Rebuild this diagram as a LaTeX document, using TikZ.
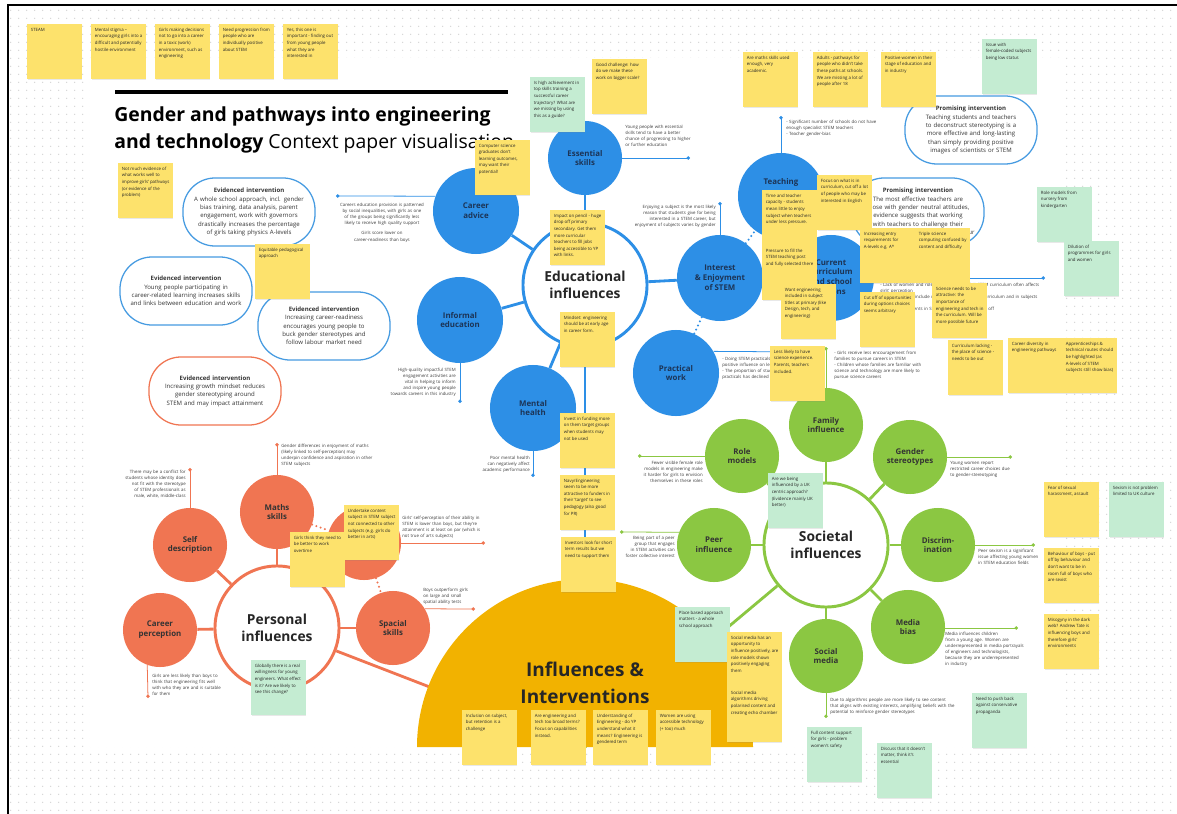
\documentclass[tikz,border=0pt]{standalone}
\usepackage{fontspec}
\setmainfont{Open Sans}
\usetikzlibrary{arrows.meta, positioning, shadows, patterns.meta}

\definecolor{edublue}{RGB}{45, 143, 230}
\definecolor{socgreen}{RGB}{139, 199, 66}
\definecolor{perorange}{RGB}{240, 117, 82}
\definecolor{infyellow}{RGB}{242, 178, 0}
\definecolor{noteyellow}{RGB}{253, 226, 108}
\definecolor{notegreen}{RGB}{196, 236, 210}
\definecolor{ivblue}{RGB}{70, 155, 225}
\definecolor{inkgray}{RGB}{60, 60, 60}
\definecolor{navy}{RGB}{28, 52, 86}

\hyphenpenalty=10000
\exhyphenpenalty=10000

\newcommand{\titlefont}{\fontsize{13.8}{16}\selectfont}
\newcommand{\hubfont}{\fontsize{9.8}{12.5}\selectfont\bfseries}
\newcommand{\satfont}{\fontsize{5.6}{7}\selectfont\bfseries}
\newcommand{\ivfont}{\fontsize{4.3}{5.9}\selectfont}
\newcommand{\annfont}{\fontsize{3.1}{4.3}\selectfont}
\newcommand{\notefont}{\fontsize{3.1}{4.7}\selectfont}
\newcommand{\bigfont}{\fontsize{13.5}{19}\selectfont\bfseries}

\tikzdeclarepattern{
  name=boarddots, type=uncolored,
  bounding box={(0pt,0pt) and (5.5pt,5.5pt)},
  tile size={(5.5pt,5.5pt)},
  code={\fill (2.75pt,2.75pt) circle (0.55pt);}
}

\tikzset{
  hub/.style={circle, draw=#1, line width=2.1pt, fill=white, minimum size=3.1cm, inner sep=0pt, align=center, font=\hubfont, text=black!85},
  sat/.style={circle, fill=#1, minimum size=2.15cm, inner sep=0pt, align=center, font=\satfont, text=black!80},
  satsmall/.style={sat=#1, minimum size=1.85cm},
  link/.style={draw=#1, line width=2pt},
  dotlink/.style={draw=#1, line width=1.6pt, line cap=round, dash pattern=on 0pt off 3.2pt},
  tick/.style={draw=#1, line width=0.55pt, -{Circle[length=2.4pt]}},
  ann/.style={font=\annfont, text=inkgray, inner sep=0pt, align=left},
  intv/.style={draw=#1, line width=0.9pt, fill=white, rounded corners=0.8cm, minimum width=3.3cm, minimum height=1.7cm, text width=2.9cm, align=center, font=\ivfont, text=black!80},
  note/.style={fill=#1, anchor=north west, inner sep=0.09cm, font=\notefont, text=black!85,
    drop shadow={opacity=0.18, shadow xshift=0.25pt, shadow yshift=-0.8pt},
    execute at begin node={\begin{minipage}[c][1.19cm][t]{1.19cm}\raggedright},
    execute at end node={\end{minipage}}},
  ynote/.style={note=noteyellow},
  gnote/.style={note=notegreen},
}

\begin{document}
\begin{tikzpicture}[x=0.025cm, y=-0.025cm]
  \useasboundingbox (0,0) rectangle (1177,814);

  % board and frame
  \fill[pattern={boarddots}, pattern color=black!17] (8,5) rectangle (1177,814);
  \fill[white] (90,58) rectangle (1065,747);
  \draw[line width=1.7pt] (8,814) -- (8,5) -- (1177,5);

  % title
  \draw[line width=2.2pt] (115,92) -- (508,92);
  \node[anchor=base west, inner sep=0pt, font=\titlefont\bfseries] (title1) at (114,122) {Gender and pathways into engineering};
  \node[anchor=base west, inner sep=0pt, font=\titlefont] (title2) at (114,149) {\textbf{and technology} Context paper visualisation};

  % hubs
  \node[hub=edublue] (edu) at (585,285) {Educational\\influences};
  \node[hub=socgreen] (soc) at (826,545) {Societal\\influences};
  \node[hub=perorange] (pers) at (277,628) {Personal\\influences};

  % educational satellites
  \node[satsmall=edublue, text=navy] (ess) at (585,158) {Essential\\skills};
  \node[sat=edublue, text=navy] (car) at (476,211) {Career\\advice};
  \node[sat=edublue, text=navy] (inf) at (460,320) {Informal\\education};
  \node[sat=edublue, text=navy] (men) at (533,408) {Mental\\health};
  \node[sat=edublue, text=navy] (int) at (720,278) {Interest\\\& Enjoyment\\of STEM};
  \node[sat=edublue, text=navy] (pra) at (676,373) {Practical\\work};
  \node[sat=edublue] (tea) at (781,196) {};
  \node[font=\satfont, text=navy] (teaL) at (781,182) {Teaching};
  \node[sat=edublue, text=navy] (cur) at (831,278) {Current\\curriculum\\and school\\options};

  % societal satellites
  \node[satsmall=socgreen] (fam) at (826,425) {Family\\influence};
  \node[satsmall=socgreen] (gen) at (910,457) {Gender\\stereotypes};
  \node[satsmall=socgreen] (dis) at (938,545) {Discrim-\\ination};
  \node[satsmall=socgreen] (med) at (908,627) {Media\\bias};
  \node[satsmall=socgreen] (socm) at (826,656) {Social\\media};
  \node[satsmall=socgreen] (peer) at (714,545) {Peer\\influence};
  \node[satsmall=socgreen] (role) at (742,456) {Role\\models};

  % personal satellites
  \node[satsmall=perorange] (self) at (190,545) {Self\\description};
  \node[satsmall=perorange] (carp) at (160,630) {Career\\perception};
  \node[satsmall=perorange] (math) at (277,512) {Maths\\skills};
  \node[satsmall=perorange] (att) at (364,543) {Attainment};
  \node[satsmall=perorange] (spa) at (393,628) {Spacial\\skills};

  % links
  \coordinate (inflc) at (585,747);
  \foreach \s in {ess, car, inf, men, int}
    \draw[link=edublue] (edu) -- (\s);
  \draw[dotlink=edublue] (int) -- (tea);
  \draw[dotlink=edublue] (int) -- (pra);
  \foreach \s in {fam, gen, dis, med, socm, peer, role}
    \draw[link=socgreen] (soc) -- (\s);
  \foreach \s in {self, carp, math, spa}
    \draw[link=perorange] (pers) -- (\s);
  \draw[dotlink=perorange] (math) -- (att);
  \draw[dotlink=perorange] (att) -- (spa);
  \draw[link=edublue] (edu) -- (inflc);
  \draw[link=socgreen] (soc) -- (inflc);
  \draw[link=perorange] (pers) -- (inflc);

  % influences & interventions
  \fill[infyellow] (417,747) arc[start angle=180, end angle=360, radius=168] -- cycle;
  \node[font=\bigfont, align=center, text=black!85] (infl) at (585,683) {Influences \&\\Interventions};

  % educational notes
  \coordinate (essE) at (690,158);
  \draw[tick=edublue] (ess) -- (essE);
  \node[ann, anchor=north west, text width=1.65cm] (essT) at (625,125) {Young people with essential skills tend to have a better chance of progressing to higher or further education};
  \coordinate (carE) at (336,196);
  \draw[tick=edublue] (car.160) -- (carE);
  \node[ann, anchor=north, text width=2.4cm, align=center] (carT) at (382,203) {Careers education provision is patterned by social inequalities, with girls as one of the groups being significantly less likely to receive high quality support\\[3pt]Girls score lower on career-readiness than boys};
  \coordinate (infE) at (460,403);
  \draw[tick=edublue] (inf) -- (infE);
  \node[ann, anchor=north east, text width=1.75cm, align=right] (infT) at (456,368) {High-quality impactful STEM engagement activities are vital in helping to inform and inspire young people towards careers in this industry};
  \coordinate (menE) at (533,477);
  \draw[tick=edublue] (men) -- (menE);
  \node[ann, anchor=north east, text width=1.45cm, align=right] (menT) at (530,456) {Poor mental health can negatively affect academic performance};
  \coordinate (intE) at (720,202);
  \draw[tick=edublue] (int) -- (intE);
  \node[ann, anchor=north east, text width=2.3cm, align=right] (intT) at (716,205) {Enjoying a subject is the most likely reason that students give for being interested in a STEM career, but enjoyment of subjects varies by gender};
  \coordinate (teaE) at (781,116);
  \draw[tick=edublue] (tea) -- (teaE);
  \node[ann, anchor=north west, text width=2.6cm] (teaT) at (786,120) {- Significant number of schools do not have enough specialist STEM teachers\\- Teacher gender-bias};
  \coordinate (curE) at (1045,278);
  \draw[tick=edublue] (cur) -- (curE);
  \node[ann, anchor=north west, text width=4.1cm] (curT) at (880,283) {- Lack of women and role models in the KS3/4 STEM curriculum often affects girls' perception\\- Opportunity to include more applications in the curriculum and in subjects e.g. D\&T\\- Entry requirements in STEM can put young people off};
  \coordinate (praE) at (812,352);
  \draw[tick=edublue] (pra.30) -- (praE);
  \node[ann, anchor=north west, text width=2.3cm] (praT) at (722,357) {- Doing STEM practicals is likely to have a positive influence on learning of science\\- The proportion of students doing practicals has declined};

  % societal notes
  \coordinate (famE) at (826,347);
  \draw[tick=socgreen] (fam) -- (famE);
  \node[ann, anchor=north west, text width=2.4cm] (famT) at (834,351) {- Girls receive less encouragement from families to pursue careers in STEM\\- Children whose families are familiar with science and technology are more likely to pursue science careers};
  \coordinate (roleE) at (638,456);
  \draw[tick=socgreen] (role) -- (roleE);
  \node[ann, anchor=north east, text width=1.75cm, align=right] (roleT) at (703,461) {Fewer visible female role models in engineering make it harder for girls to envision themselves in these roles};
  \coordinate (peerE) at (620,532);
  \draw[tick=socgreen] (peer.160) -- (peerE);
  \node[ann, anchor=north east, text width=1.5cm, align=right] (peerT) at (675,536) {Being part of a peer group that engages in STEM activities can foster collective interest};
  \coordinate (genE) at (1012,457);
  \draw[tick=socgreen] (gen) -- (genE);
  \node[ann, anchor=north west, text width=1.6cm] (genT) at (950,461) {Young women report restricted career choices due to gender-stereotyping};
  \coordinate (disE) at (1035,545);
  \draw[tick=socgreen] (dis) -- (disE);
  \node[ann, anchor=north west, text width=1.55cm] (disT) at (978,549) {Peer sexism is a significant issue affecting young women in STEM education fields};
  \coordinate (medE) at (1018,628);
  \draw[tick=socgreen] (med.east |- medE) -- (medE);
  \node[ann, anchor=north west, text width=2cm] (medT) at (945,632) {Media influences children from a young age. Women are underrepresented in media portrayals of engineers and technologists, because they are underrepresented in industry};
  \coordinate (socmE) at (826,718);
  \draw[tick=socgreen] (socm) -- (socmE);
  \node[ann, anchor=north west, text width=3.3cm] (socmT) at (830,698) {Due to algorithms people are more likely to see content that aligns with existing interests, amplifying beliefs with the potential to reinforce gender stereotypes};

  % personal notes
  \coordinate (selfE) at (190,468);
  \draw[tick=perorange] (self) -- (selfE);
  \node[ann, anchor=north east, text width=1.75cm, align=right] (selfT) at (186,470) {There may be a conflict for students whose identity does not fit with the stereotype of STEM professionals as male, white, middle-class};
  \coordinate (mathE) at (277,443);
  \draw[tick=perorange] (math) -- (mathE);
  \node[ann, anchor=north west, text width=2.3cm] (mathT) at (281,444) {Gender differences in enjoyment of maths (likely linked to self-perception) may underpin confidence and aspiration in other STEM subjects};
  \coordinate (attE) at (485,543);
  \draw[tick=perorange] (att) -- (attE);
  \node[ann, anchor=south west, text width=2.15cm] (attT) at (402,539) {Girls' self-perception of their ability in STEM is lower than boys, but they're attainment is at least on par (which is not true of arts subjects)};
  \coordinate (spaE) at (475,609);
  \draw[tick=perorange] (spa.31) -- (spaE);
  \node[ann, anchor=south west, text width=1.2cm] (spaT) at (423,605) {Boys outperform girls on large and small spatial ability tests};
  \coordinate (carpE) at (148,698);
  \draw[tick=perorange] (carp.250) -- (carpE);
  \node[ann, anchor=north west, text width=1.75cm] (carpT) at (152,674) {Girls are less likely than boys to think that engineering fits well with who they are and is suitable for them};

  % interventions
  \node[intv=ivblue] (iv1) at (249,212) {\textbf{Evidenced intervention}\\A whole school approach, incl. gender bias training, data analysis, parent engagement, work with governors drastically increases the percentage of girls taking physics A-levels};
  \node[intv=ivblue] (iv2) at (186,291) {\textbf{Evidenced intervention}\\Young people participating in career-related learning increases skills and links between education and work};
  \node[intv=ivblue] (iv3) at (324,326) {\textbf{Evidenced intervention}\\Increasing career-readiness encourages young people to buck gender stereotypes and follow labour market need};
  \node[intv=perorange] (iv4) at (215,391) {\textbf{Evidenced intervention}\\Increasing growth mindset reduces gender stereotyping around STEM and may impact attainment};
  \node[intv=ivblue] (iv5) at (971,130) {\textbf{Promising intervention}\\Teaching students and teachers to deconstruct stereotyping is a more effective and long-lasting than simply providing positive images of scientists or STEM};
  \node[intv=ivblue] (iv6) at (918,212) {\textbf{Promising intervention}\\The most effective teachers are those with gender neutral attitudes, evidence suggests that working with teachers to challenge their stereotypes can change their behaviour};

  % sticky notes, top row
  \node[ynote] (top1) at (27,24) {STEAM};
  \node[ynote] (top2) at (91,24) {Mental stigma -- encouraging girls into a difficult and potentially hostile environment};
  \node[ynote] (top3) at (155,24) {Girls making decisions not to go into a career in a toxic (work) environment, such as engineering};
  \node[ynote] (top4) at (219,24) {Need progression from people who are individually positive about STEM};
  \node[ynote] (top5) at (283,24) {Yes, this one is important - finding out from young people what they are interested in};

  % sticky notes, left
  \node[ynote] (lft1) at (118,163) {Not much evidence of what works well to improve girls' pathways (or evidence of the problem)};
  \node[ynote] (lft2) at (255,244) {Equitable pedagogical approach};

  % sticky notes, educational
  \node[gnote] (edu1) at (530,77) {Is high achievement in top skills training a successful career trajectory? What are we missing by using this as a guide?};
  \node[ynote] (edu2) at (592,59) {Good challenge: how do we make these work on bigger scale?};
  \node[ynote] (edu3) at (475,140) {Computer science graduates don't learning outcomes, may want their potential!};
  \node[ynote] (edu4) at (550,210) {Impact on pencil - huge drop off primary secondary. Get them more curricular teachers to fill jobs being accessible to YP with links.};
  \node[ynote] (edu5) at (560,312) {Mindset: engineering should be at early age in career form.};
  \node[ynote] (edu6) at (560,413) {Invest in funding more on them target groups when students may not be used};
  \node[ynote] (edu7) at (560,475) {Navy/Engineering seem to be more attractive to funders in their 'target' to see pedagogy (also good for PR)};
  \node[ynote] (edu8) at (561,537) {Investors look for short term results but we need to support them};

  % sticky notes, teaching and curriculum
  \node[ynote] (tch1) at (743,52) {Are maths skills used enough, very academic.};
  \node[ynote] (tch2) at (813,52) {Adults - pathways for people who didn't take these paths at schools. We are missing a lot of people after 18};
  \node[ynote] (tch3) at (881,52) {Positive women in their stage of education and in industry};
  \node[gnote] (tch4) at (982,39) {Issue with female-coded subjects being low status};
  \node[ynote] (tch5) at (817,175) {Focus on what is in curriculum, cut off a lot of people who may be interested in English};
  \node[ynote] (tch6) at (762,190) {Time and teacher capacity - students mean little to enjoy subject when teachers under less pressure.};
  \node[ynote] (tch7) at (762,245) {Pressure to fill the STEM teaching post and fully selected there};
  \node[ynote] (tch8) at (781,284) {Want engineering included in subject titles at primary (like Design, tech, and engineering)};
  \node[ynote] (cur1) at (860,228) {Increasing entry requirements for A-levels e.g. A*};
  \node[ynote] (cur2) at (915,228) {Triple science computing confused by content and difficulty};
  \node[ynote] (cur3) at (860,292) {Cut off of opportunities during options choices seems arbitrary};
  \node[ynote] (cur4) at (932,283) {Science needs to be attractive: the importance of engineering and tech in the curriculum. Will be more possible future};
  \node[ynote] (cur5) at (948,340) {Curriculum lacking - the place of science - needs to be out};
  \node[ynote] (cur6) at (1008,338) {Career diversity in engineering pathways};
  \node[ynote] (cur7) at (1062,338) {Apprenticeships \& technical routes should be highlighted (as A-levels of STEM subjects still show bias)};
  \node[gnote] (cur8) at (1037,187) {Role models from nursery from kindergarten};
  \node[gnote] (cur9) at (1064,241) {Dilution of programmes for girls and women};
  \node[ynote] (pra1) at (770,346) {Less likely to have science experience. Parents, teachers included.};

  % sticky notes, societal
  \node[gnote] (soc1) at (768,473) {Are we being influenced by a UK centric approach? (Evidence mainly UK better)};
  \node[gnote] (soc2) at (675,607) {Place based approach matters - a whole school approach};
  \node[ynote] (soc3) at (727,632) {Social media has an opportunity to influence positively, are role models shown positively engaging them};
  \node[ynote] (soc4) at (727,687) {Social media algorithms driving polarised content and creating echo chamber};
  \node[ynote] (soc5) at (1044,482) {Fear of sexual harassment, assault};
  \node[gnote] (soc6) at (1109,482) {Sexism is not problem limited to UK culture};
  \node[ynote] (soc7) at (1044,548) {Behaviour of boys - put off by behaviour and don't want to be in room full of boys who are sexist};
  \node[ynote] (soc8) at (1044,614) {Misogyny in the dark web? Andrew Tate is influencing boys and therefore girls' environments};
  \node[gnote] (soc9) at (972,693) {Need to push back against conservative propaganda};
  \node[gnote] (soc10) at (807,727) {Full content support for girls - problem women's safety};
  \node[gnote] (soc11) at (877,743) {Discuss that it doesn't matter, think it's essential};

  % sticky notes, personal and bottom row
  \node[ynote] (per1) at (344,505) {Undertake content subject in STEM subject not connected to other subjects (e.g. girls do better in arts)};
  \node[ynote] (per2) at (290,532) {Girls think they need to be better to work overtime};
  \node[gnote] (per3) at (251,660) {Globally there is a real willingness for young engineers. What effect is it? Are we likely to see this change?};
  \node[ynote] (bot1) at (462,710) {Inclusion on subject, but retention is a challenge};
  \node[ynote] (bot2) at (531,710) {Are engineering and tech too broad terms? Focus on capabilities instead.};
  \node[ynote] (bot3) at (593,710) {Understanding of Engineering - do YP understand what it means? Engineering is gendered term};
  \node[ynote] (bot4) at (656,710) {Women are using accessible technology (+ too) much};
\end{tikzpicture}
\end{document}
